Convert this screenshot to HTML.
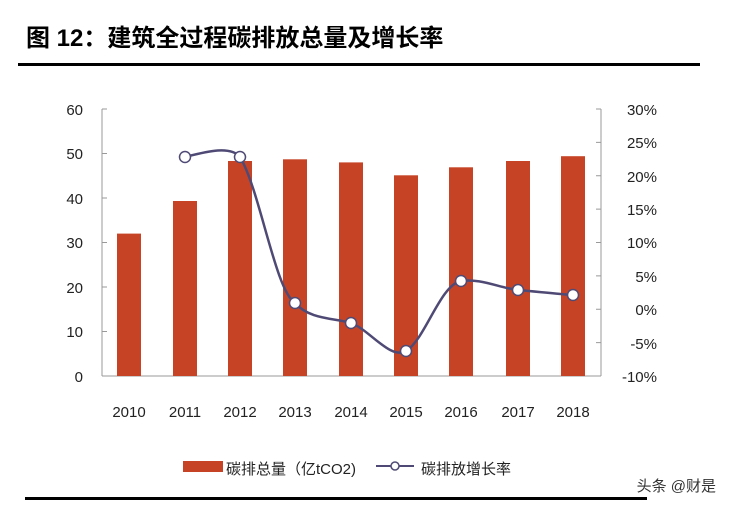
<!DOCTYPE html><html><head><meta charset="utf-8"><style>body{margin:0;background:#fff}svg{display:block}</style></head><body>
<svg width="729" height="510" xmlns="http://www.w3.org/2000/svg" font-family="'Liberation Sans','Noto Sans CJK SC',sans-serif">
<text x="26" y="46" font-size="24" font-weight="bold" fill="#000">图 12：建筑全过程碳排放总量及增长率</text>
<rect x="18" y="63" width="682" height="3" fill="#000"/>
<rect x="25" y="497" width="622" height="3" fill="#000"/>
<g stroke="#999" stroke-width="1" fill="none">
<path d="M102,109V376M102,109h5M102,153.5h5M102,198h5M102,242.5h5M102,287h5M102,331.5h5M102,376h5"/>
<path d="M601,109V376M601,109h-5M601,142.4h-5M601,175.8h-5M601,209.1h-5M601,242.5h-5M601,275.9h-5M601,309.2h-5M601,342.6h-5M601,376h-5"/>
<path d="M102,376H601"/>
</g>
<g font-size="15" fill="#222" text-anchor="end">
<text x="83" y="115">60</text><text x="83" y="159">50</text><text x="83" y="204">40</text><text x="83" y="248">30</text><text x="83" y="293">20</text><text x="83" y="337">10</text><text x="83" y="382">0</text>
</g>
<g font-size="15" fill="#222" text-anchor="end">
<text x="657" y="115">30%</text><text x="657" y="148">25%</text><text x="657" y="182">20%</text><text x="657" y="215">15%</text><text x="657" y="248">10%</text><text x="657" y="282">5%</text><text x="657" y="315">0%</text><text x="657" y="349">-5%</text><text x="657" y="382">-10%</text>
</g>
<g fill="#C64425">
<rect x="117" y="233.6" width="24" height="142.4"/>
<rect x="173" y="201" width="24" height="175"/>
<rect x="228" y="161" width="24" height="215"/>
<rect x="283" y="159.3" width="24" height="216.7"/>
<rect x="339" y="162.4" width="24" height="213.6"/>
<rect x="394" y="175.3" width="24" height="200.7"/>
<rect x="449" y="167.3" width="24" height="208.7"/>
<rect x="506" y="161" width="24" height="215"/>
<rect x="561" y="156.2" width="24" height="219.8"/>
</g>
<g font-size="15" fill="#222" text-anchor="middle">
<text x="129" y="417">2010</text><text x="185" y="417">2011</text><text x="240" y="417">2012</text><text x="295" y="417">2013</text><text x="351" y="417">2014</text><text x="406" y="417">2015</text><text x="461" y="417">2016</text><text x="518" y="417">2017</text><text x="573" y="417">2018</text>
</g>
<path d="M185,157C205,152 230,145 240,157C260,190 275,290 295,303C310,320 335,318 351,323C370,330 390,360 406,351C425,340 440,285 461,281C480,278 500,288 518,290C540,292 560,294 573,295" fill="none" stroke="#4F4A75" stroke-width="2.5"/>
<g fill="#fff" stroke="#4F4A75" stroke-width="1.5">
<circle cx="185" cy="157" r="5.5"/><circle cx="240" cy="157" r="5.5"/><circle cx="295" cy="303" r="5.5"/><circle cx="351" cy="323" r="5.5"/><circle cx="406" cy="351" r="5.5"/><circle cx="461" cy="281" r="5.5"/><circle cx="518" cy="290" r="5.5"/><circle cx="573" cy="295" r="5.5"/>
</g>
<rect x="183" y="461" width="40" height="11" fill="#C64425"/>
<text x="226" y="474" font-size="15" fill="#222">碳排总量（亿tCO2)</text>
<path d="M376,466H414" stroke="#4F4A75" stroke-width="2"/>
<circle cx="395" cy="466" r="4" fill="#fff" stroke="#4F4A75" stroke-width="1.5"/>
<text x="421" y="474" font-size="15" fill="#222">碳排放增长率</text>
<text x="716" y="491" font-size="15" fill="#333" text-anchor="end">头条 @财是</text>
</svg></body></html>
